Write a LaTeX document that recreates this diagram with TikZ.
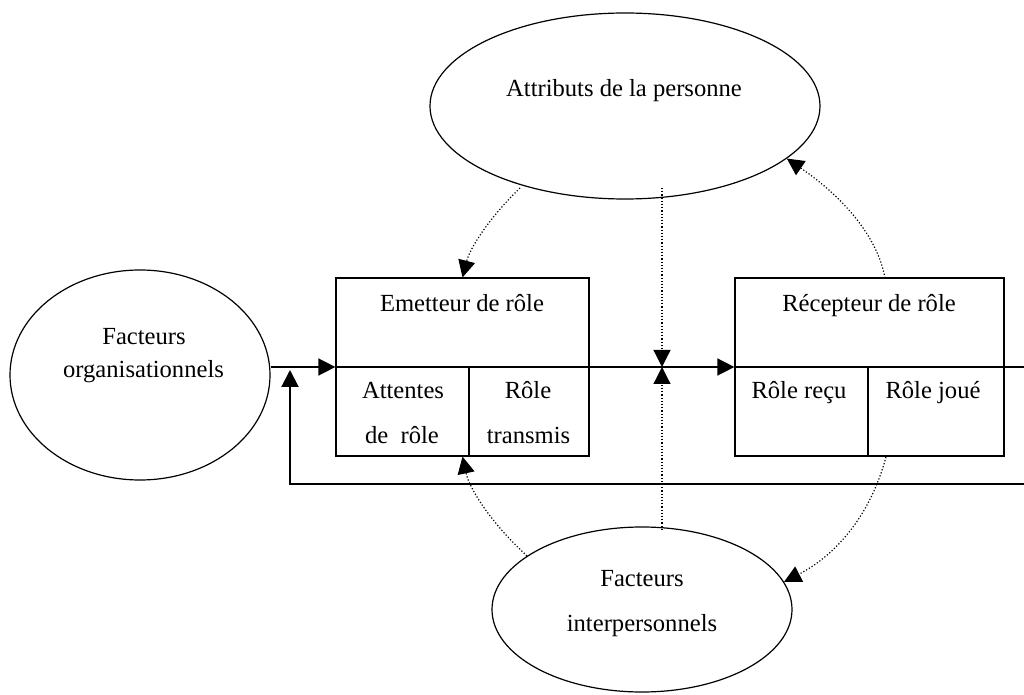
\documentclass[tikz,border=0pt]{standalone}
\usepackage{fontspec}
\setmainfont{Liberation Serif}
\usetikzlibrary{arrows.meta,shapes.geometric}
\begin{document}
\begin{tikzpicture}[x=0.5pt,y=-0.5pt,
  every node/.style={font=\fontsize{12.3}{14}\selectfont},
  oval/.style={draw, ellipse, line width=0.6pt, inner sep=0pt},
  boxframe/.style={draw, rectangle, line width=0.6pt, inner sep=0pt, minimum width=126.5pt, minimum height=89pt},
  lbl/.style={anchor=base, inner sep=0pt},
  tip/.style={-{Triangle[length=8.5pt,width=8.5pt]}},
  flow/.style={line width=0.75pt},
  thin/.style={line width=0.6pt},
  fb/.style={line width=1pt},
  dots/.style={dash pattern=on 0.6pt off 1pt, line width=0.6pt}
]
\useasboundingbox (0,0) rectangle (1024,695);
% ellipses
\node[oval, minimum width=195pt, minimum height=93pt] (attr) at (625,106) {};
\node[lbl] (attrT) at (624,97) {Attributs de la personne};
\node[oval, minimum width=130pt, minimum height=105pt] (org) at (140,375) {};
\node[lbl] (orgT1) at (144,345) {Facteurs};
\node[lbl] (orgT2) at (143.5,378) {organisationnels};
\node[oval, minimum width=150pt, minimum height=82.5pt] (inter) at (642,609.5) {};
\node[lbl] (interT1) at (642,587) {Facteurs};
\node[lbl] (interT2) at (642,632) {interpersonnels};
% boxes
\node[boxframe] (em) at (462.5,367) {};
\node[boxframe, minimum width=134.5pt] (re) at (869.5,367) {};
\coordinate (emDiv) at (469,367);
\coordinate (reDiv) at (868,367);
\draw[thin] (emDiv) -- (emDiv |- em.south);
\draw[thin] (reDiv) -- (reDiv |- re.south);
\draw[thin] (em.west) -- (em.east);
\draw[thin] (re.west) -- (re.east);
\node[lbl] (emT) at (462,312) {Emetteur de rôle};
\node[lbl] (emA1) at (403,399) {Attentes};
\node[lbl] (emA2) at (402,444) {de~~rôle};
\node[lbl] (emR1) at (528,399) {Rôle};
\node[lbl] (emR2) at (528.5,444) {transmis};
\node[lbl] (reT) at (869,312) {Récepteur de rôle};
\node[lbl] (reR1) at (799,399) {Rôle reçu};
\node[lbl] (reR2) at (933,399) {Rôle joué};
% main flow
\draw[flow,tip] (org.east |- em.west) -- (em.west);
\draw[flow,tip] (em.east) -- (re.west);
\coordinate (rightEdge) at (1024,367);
\draw[flow] (re.east) -- (rightEdge);
% feedback
\coordinate (fbStart) at (1024,484);
\coordinate (fbTurn) at (290,484);
\coordinate (fbEnd) at (290,370);
\draw[fb,tip] (fbStart) -- (fbTurn) -- (fbEnd);
% middle dotted arrows
\coordinate (mid) at (662,367);
\coordinate (midTop) at (662,188);
\coordinate (midBot) at (662,530);
\draw[dots,tip] (midTop) -- (mid);
\draw[dots,tip] (midBot) -- (mid);
% dotted curves
\coordinate (c1s) at (520,188);
\draw[dots,tip] (c1s) .. controls (489,218) and (470,248) .. (em.north);
\coordinate (c2s) at (885,278);
\draw[dots,tip] (c2s) .. controls (878,239) and (846,199) .. (attr.-18);
\draw[dots,tip] (inter.155) .. controls (491,523) and (469.5,489) .. (em.south);
\coordinate (c4s) at (886,457);
\draw[dots,tip] (c4s) .. controls (871,513) and (838,554) .. (inter.11);
\end{tikzpicture}
\end{document}
